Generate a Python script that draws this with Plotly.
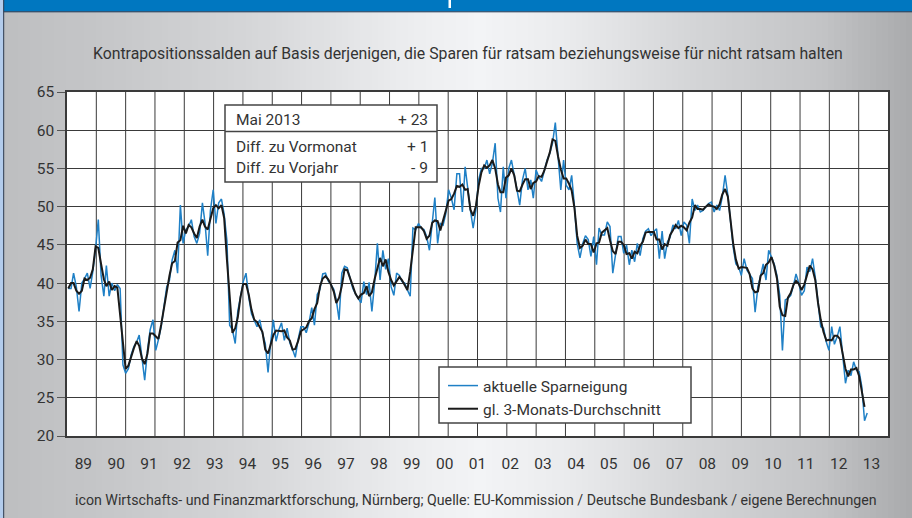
import plotly.graph_objects as go
import pandas as pd

# ---------------- data ----------------
start_month = "1989-01-01"

# aktuelle Sparneigung, monthly Jan 1989 - May 2013
sparneigung = [
    39.3, 39.3, 41.3, 39.5, 36.3, 40.0, 40.6, 41.3, 39.3, 41.5, 44.5, 48.3,  # 1989
    41.0, 38.3, 42.3, 38.3, 40.0, 39.0, 39.8, 39.3, 29.3, 28.2, 28.8, 30.6,  # 1990
    31.7, 32.3, 33.2, 29.8, 27.3, 31.2, 33.9, 35.2, 31.2, 32.6, 34.3, 36.9,  # 1991
    39.5, 40.4, 43.0, 44.3, 41.3, 50.2, 45.2, 47.0, 47.4, 48.3, 46.1, 45.2,  # 1992
    46.5, 50.5, 48.0, 43.6, 49.5, 52.2, 47.8, 50.5, 51.0, 49.0, 45.5, 34.5,  # 1993
    33.9, 32.1, 36.3, 38.2, 40.2, 41.3, 38.2, 36.0, 35.2, 34.3, 35.2, 33.4,  # 1994
    32.1, 28.3, 32.1, 35.2, 32.4, 33.9, 34.8, 32.5, 34.1, 32.2, 31.3, 30.3,  # 1995
    32.6, 34.3, 34.3, 33.5, 34.8, 36.8, 34.5, 38.5, 39.2, 41.2, 41.3, 40.3,  # 1996
    39.8, 39.2, 37.8, 35.2, 41.3, 42.2, 42.0, 40.8, 39.3, 38.6, 38.0, 37.4,  # 1997
    40.2, 38.5, 40.1, 36.3, 40.0, 45.2, 40.4, 44.3, 41.8, 43.2, 39.5, 38.4,  # 1998
    41.3, 41.0, 40.2, 40.0, 39.1, 38.3, 47.2, 47.0, 47.8, 47.2, 47.0, 46.1,  # 1999
    44.3, 48.3, 51.2, 45.2, 47.8, 47.6, 49.1, 52.2, 51.1, 49.6, 54.3, 54.3,  # 2000
    49.3, 55.2, 52.2, 49.5, 47.2, 49.6, 53.5, 55.0, 55.0, 56.1, 54.3, 55.7,  # 2001
    58.3, 51.1, 49.3, 55.2, 51.1, 55.0, 56.1, 53.9, 52.2, 50.2, 53.5, 55.0,  # 2002
    52.2, 53.5, 51.1, 54.8, 53.9, 53.3, 54.6, 56.1, 57.0, 58.3, 61.0, 56.5,  # 2003
    52.2, 56.1, 52.8, 52.2, 54.1, 50.0, 45.2, 43.3, 45.2, 46.2, 45.7, 43.5,  # 2004
    46.1, 42.4, 47.2, 46.3, 46.3, 48.0, 47.4, 41.3, 43.9, 46.1, 46.1, 43.9,  # 2005
    45.0, 42.4, 44.3, 42.8, 45.2, 43.6, 45.8, 46.8, 47.1, 46.2, 46.8, 47.1,  # 2006
    43.2, 46.8, 43.2, 45.4, 46.0, 47.6, 47.1, 48.2, 46.2, 48.0, 47.6, 45.2,  # 2007
    51.0, 49.5, 50.2, 49.3, 49.5, 50.0, 50.4, 50.6, 49.3, 50.2, 49.5, 51.3,  # 2008
    54.1, 51.5, 48.4, 44.7, 42.5, 42.1, 41.0, 43.2, 41.7, 41.2, 40.6, 36.2,  # 2009
    39.5, 41.0, 42.5, 40.4, 44.3, 43.4, 42.5, 41.0, 38.4, 31.2, 37.8, 38.0,  # 2010
    38.4, 39.7, 41.2, 40.0, 38.4, 39.0, 42.1, 41.5, 43.2, 40.8, 37.1, 34.3,  # 2011
    34.1, 32.3, 31.2, 34.3, 32.0, 33.0, 34.3, 30.8, 26.9, 28.6, 27.9, 29.7,  # 2012
    28.6, 28.4, 26.5, 22.0, 23.0,                                            # 2013
]

# gl. 3-Monats-Durchschnitt, monthly Jan 1989 - Apr 2013
durchschnitt = [
    39.3, 40.0, 40.0, 39.0, 38.6, 39.0, 40.6, 40.4, 40.7, 41.8, 44.8, 44.6,  # 1989
    42.5, 40.5, 39.6, 40.2, 39.1, 39.6, 39.4, 36.1, 32.3, 28.8, 29.2, 30.4,  # 1990
    31.5, 32.4, 31.8, 30.1, 29.4, 30.8, 33.4, 33.4, 33.0, 32.7, 34.6, 36.9,  # 1991
    38.9, 41.0, 42.6, 42.9, 45.3, 45.6, 47.5, 46.5, 47.6, 47.3, 46.5, 45.9,  # 1992
    47.4, 48.3, 47.4, 47.0, 48.4, 49.8, 50.2, 49.8, 50.2, 48.5, 43.0, 38.0,  # 1993
    33.5, 34.1, 35.5, 38.2, 39.9, 39.9, 38.5, 36.5, 35.2, 34.9, 34.3, 33.6,  # 1994
    31.3, 30.8, 31.9, 33.2, 33.8, 33.7, 33.7, 33.8, 32.9, 32.5, 31.3, 31.4,  # 1995
    32.4, 33.7, 34.0, 34.2, 35.0, 35.4, 36.6, 37.4, 39.6, 40.6, 40.9, 40.5,  # 1996
    39.8, 38.9, 37.4, 38.1, 39.6, 41.8, 41.7, 40.7, 39.6, 38.6, 38.0, 38.5,  # 1997
    38.7, 39.6, 38.3, 38.8, 40.5, 41.9, 43.3, 42.2, 43.1, 41.5, 40.4, 39.7,  # 1998
    40.2, 40.8, 40.4, 39.8, 39.1, 41.5, 44.2, 47.3, 47.3, 47.3, 46.8, 45.8,  # 1999
    46.2, 47.9, 48.2, 48.1, 46.9, 48.2, 49.6, 50.8, 51.0, 51.7, 52.7, 52.6,  # 2000
    52.9, 52.2, 52.3, 49.6, 48.8, 50.1, 52.7, 54.5, 55.4, 55.1, 55.4, 56.1,  # 2001
    55.0, 52.9, 51.9, 51.9, 53.8, 54.1, 55.0, 54.1, 52.1, 52.0, 52.9, 53.6,  # 2002
    53.6, 52.3, 53.1, 53.3, 54.0, 53.9, 54.7, 55.9, 57.1, 58.8, 58.6, 56.6,  # 2003
    54.9, 53.7, 53.7, 53.0, 52.1, 49.8, 46.2, 44.6, 44.9, 45.7, 45.1, 45.1,  # 2004
    44.0, 45.2, 45.3, 46.6, 46.9, 47.2, 45.6, 44.2, 43.8, 45.4, 45.4, 45.0,  # 2005
    43.8, 43.9, 43.2, 44.1, 43.9, 44.9, 45.4, 46.6, 46.7, 46.7, 46.7, 45.7,  # 2006
    45.7, 44.4, 45.1, 44.9, 46.3, 46.9, 47.6, 47.2, 47.5, 47.3, 46.9, 47.9,  # 2007
    48.6, 50.2, 49.7, 49.7, 49.6, 50.0, 50.3, 50.1, 50.0, 49.7, 50.3, 51.6,  # 2008
    52.3, 51.3, 48.2, 45.2, 43.1, 41.9, 42.1, 42.0, 42.0, 41.2, 39.3, 38.8,  # 2009
    38.9, 41.0, 41.3, 42.4, 42.7, 43.4, 42.3, 40.6, 36.9, 35.8, 35.7, 38.1,  # 2010
    38.7, 39.8, 40.3, 39.9, 39.1, 39.8, 40.9, 42.3, 41.8, 40.4, 37.4, 35.2,  # 2011
    33.6, 32.5, 32.6, 32.5, 33.1, 33.1, 32.7, 30.7, 28.8, 27.8, 28.7, 28.7,  # 2012
    28.9, 27.8, 25.6, 23.8,                                                  # 2013
]

year_labels = ["89", "90", "91", "92", "93", "94", "95", "96", "97", "98", "99", "00",
               "01", "02", "03", "04", "05", "06", "07", "08", "09", "10", "11", "12", "13"]
first_year = 1989

series_names = ["aktuelle Sparneigung", "gl. 3-Monats-Durchschnitt"]

box_labels = ["Mai 2013", "Diff. zu Vormonat", "Diff. zu Vorjahr"]
box_values = ["+ 23", "+ 1", "- 9"]

subtitle = ("Kontrapositionssalden auf Basis derjenigen, die Sparen für ratsam "
            "beziehungsweise für nicht ratsam halten")
footer = ("icon Wirtschafts- und Finanzmarktforschung, Nürnberg; Quelle: EU-Kommission / "
          "Deutsche Bundesbank / eigene Berechnungen")

# ---------------- layout helpers ----------------
W_FIG, H_FIG = 912, 518
L, R, T, B = 67, 888, 92, 436
PW, PH = R - L, B - T


def px(X):
    return (X - L) / PW


def py(Y):
    return (B - Y) / PH


dates = pd.date_range(start_month, periods=len(sparneigung), freq="MS") + pd.Timedelta(days=14)
tickvals = [f"{first_year + k}-07-02" for k in range(len(year_labels))]

FONT = "Roboto, 'Open Sans', sans-serif"
TXT = "#333333"
GRID = "#3a3a3a"

fig = go.Figure()
fig.add_trace(go.Scatter(x=dates, y=sparneigung, mode="lines", name=series_names[0],
                         line=dict(color="#1f80c6", width=1.5)))
fig.add_trace(go.Scatter(x=dates[:len(durchschnitt)], y=durchschnitt, mode="lines",
                         name=series_names[1], line=dict(color="#1a1a1a", width=2)))

shapes = []
# background gradient strips
keys = [(0, 192), (100, 200), (250, 216), (400, 238), (480, 246), (560, 238),
        (700, 214), (820, 198), (912, 172)]


def grey(X):
    for (x0, v0), (x1, v1) in zip(keys[:-1], keys[1:]):
        if x0 <= X <= x1:
            return v0 + (v1 - v0) * (X - x0) / (x1 - x0)
    return keys[-1][1]


step = 6
for X in range(0, W_FIG, step):
    v = int(round(grey(X + step / 2)))
    shapes.append(dict(type="rect", xref="paper", yref="paper", layer="below",
                       x0=px(X), x1=px(X + step + 0.5), y0=py(H_FIG), y1=py(0),
                       fillcolor=f"rgb({v - 3},{v - 2},{v})", line=dict(width=0)))
# white plot area
shapes.append(dict(type="rect", xref="paper", yref="paper", layer="below",
                   x0=0, x1=1, y0=0, y1=1, fillcolor="white", line=dict(width=0)))
# vertical grid: 28 columns
for k in range(1, 28):
    shapes.append(dict(type="line", xref="paper", yref="paper", layer="below",
                       x0=k / 28, x1=k / 28, y0=0, y1=1, line=dict(color=GRID, width=1)))
# header band + frame details
shapes.append(dict(type="rect", xref="paper", yref="paper", layer="above",
                   x0=px(3.5), x1=px(W_FIG + 2), y0=py(11.5), y1=py(-2),
                   fillcolor="#0077c0", line=dict(width=0)))
shapes.append(dict(type="line", xref="paper", yref="paper", layer="above",
                   x0=px(3.5), x1=px(W_FIG + 2), y0=py(11.8), y1=py(11.8),
                   line=dict(color="#1d3550", width=1)))
shapes.append(dict(type="rect", xref="paper", yref="paper", layer="above",
                   x0=px(448.5), x1=px(451), y0=py(8), y1=py(-1),
                   fillcolor="white", line=dict(width=0)))
shapes.append(dict(type="rect", xref="paper", yref="paper", layer="above",
                   x0=px(-2), x1=px(3.2), y0=py(H_FIG + 2), y1=py(-2),
                   fillcolor="#b3ccec", line=dict(width=0)))
shapes.append(dict(type="line", xref="paper", yref="paper", layer="above",
                   x0=px(3.7), x1=px(3.7), y0=py(H_FIG + 2), y1=py(-2),
                   line=dict(color="#2a3b52", width=1)))
# info box
shapes.append(dict(type="rect", xref="paper", yref="paper", layer="above",
                   x0=px(225), x1=px(437), y0=py(182), y1=py(105),
                   fillcolor="white", line=dict(color="#444444", width=1.5)))
shapes.append(dict(type="line", xref="paper", yref="paper", layer="above",
                   x0=px(225), x1=px(437), y0=py(131.5), y1=py(131.5),
                   line=dict(color="#444444", width=1.5)))
# legend box
shapes.append(dict(type="rect", xref="paper", yref="paper", layer="above",
                   x0=px(439), x1=px(691), y0=py(423), y1=py(367),
                   fillcolor="white", line=dict(color="#444444", width=1.5)))

annotations = []
box_y = [120, 147, 168]
for lab, val, yy in zip(box_labels, box_values, box_y):
    annotations.append(dict(xref="paper", yref="paper", x=px(234), y=py(yy), text=lab,
                            showarrow=False, xanchor="left", yanchor="middle",
                            font=dict(family=FONT, size=15.5, color=TXT)))
    annotations.append(dict(xref="paper", yref="paper", x=px(430), y=py(yy), text=val,
                            showarrow=False, xanchor="right", yanchor="middle",
                            font=dict(family=FONT, size=15.5, color=TXT)))
annotations.append(dict(xref="paper", yref="paper", x=px(468), y=py(53), text=subtitle,
                        showarrow=False, xanchor="center", yanchor="middle",
                        font=dict(family=FONT, size=15.8, color=TXT)))
annotations.append(dict(xref="paper", yref="paper", x=px(476), y=py(500), text=footer,
                        showarrow=False, xanchor="center", yanchor="middle",
                        font=dict(family=FONT, size=14.2, color=TXT)))

fig.update_layout(
    width=W_FIG, height=H_FIG,
    margin=dict(l=L, r=W_FIG - R, t=T, b=H_FIG - B, pad=0),
    paper_bgcolor="#d0d2d5", plot_bgcolor="white",
    font=dict(family=FONT, size=15, color=TXT),
    showlegend=True,
    legend=dict(x=px(443), y=py(369), xanchor="left", yanchor="top",
                bgcolor="rgba(0,0,0,0)", borderwidth=0,
                font=dict(family=FONT, size=15.5, color=TXT), tracegroupgap=0,
                itemwidth=30),
    shapes=shapes, annotations=annotations,
    xaxis=dict(range=["1989-01-01", "2014-01-01"], tickvals=tickvals, ticktext=year_labels,
               showgrid=False, zeroline=False, ticks="outside", ticklen=13,
               tickcolor="rgba(0,0,0,0)", showline=True, linecolor=GRID, linewidth=1.5,
               mirror=True, tickfont=dict(family=FONT, size=15.5, color=TXT)),
    yaxis=dict(range=[20, 65], dtick=5, tick0=20, showgrid=True, gridcolor=GRID, gridwidth=1,
               zeroline=False, ticks="outside", ticklen=8, tickcolor="#555555",
               showline=True, linecolor=GRID, linewidth=1.5, mirror=True,
               tickfont=dict(family=FONT, size=15.5, color=TXT)),
)

fig.write_html("out.html", config={"displayModeBar": False},
               post_script="document.body.style.margin='0';document.body.style.overflow='hidden';")
